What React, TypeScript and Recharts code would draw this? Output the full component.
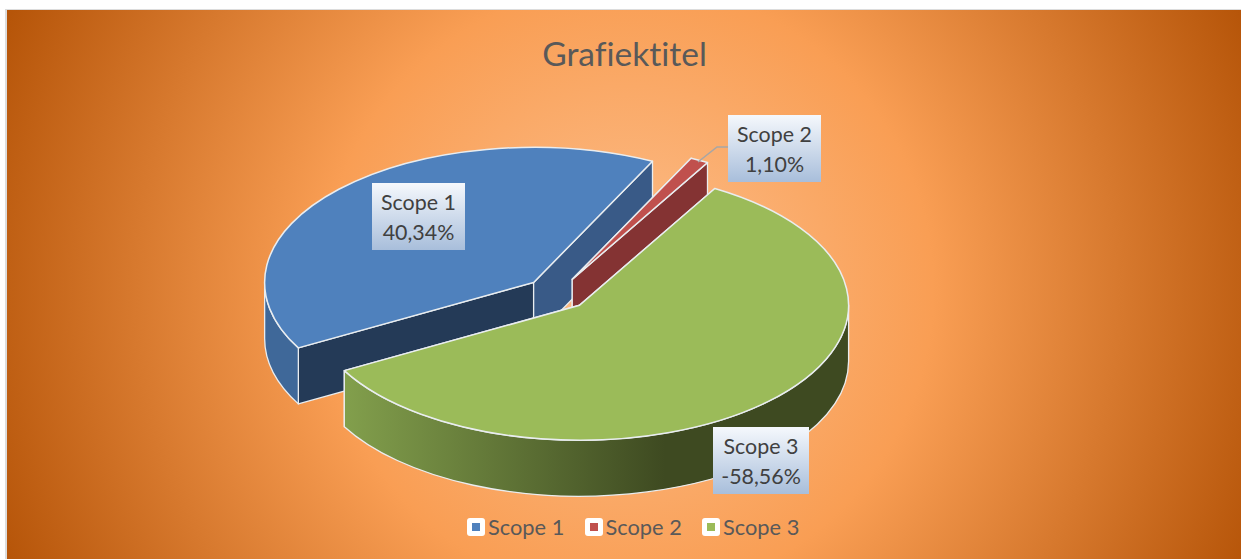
import { Legend, Pie, PieChart } from "recharts";

const categories = ["Scope 1", "Scope 2", "Scope 3"];
const shares = [40.34, 1.1, 58.56];
const shareLabels = ["40,34%", "1,10%", "-58,56%"];

const topColors = ["#4f81bd", "#c0504d", "#9bbb59"];
const startWallColors = ["#243a57", "#843333", "#7f9c4a"];
const endWallColors = ["#395a87", "#843333", "#3e4a21"];
const outerWallColors = ["#3f6899", "#843333", "url(#greenWall)"];

// corner and width of each data label box
const labelBoxes = [
  { x: 372, y: 183, w: 93 },
  { x: 728, y: 115, w: 93 },
  { x: 713, y: 427, w: 96 },
];

const WIDTH = 1241;
const HEIGHT = 559;
const SQUASH = 0.502;
const DEPTH = 56;
const EXPLODE = 0.12;
const EDGE = "#e9edf0";
const FONT = "Lato, sans-serif";

const data = categories.map((name, i) => ({
  name,
  value: shares[i],
  fill: topColors[i],
  index: i,
}));

const rad = (a: number) => (a * Math.PI) / 180;

function Slice3D(props: any) {
  const { cx, cy, outerRadius: r, startAngle, endAngle, midAngle } = props;
  const i = props.payload?.index ?? props.index ?? 0;
  const ry = r * SQUASH;
  const ox = cx + EXPLODE * r * Math.cos(rad(midAngle));
  const oy = cy - EXPLODE * ry * Math.sin(rad(midAngle));
  const pt = (a: number, down = 0) =>
    `${ox + r * Math.cos(rad(a))} ${oy - ry * Math.sin(rad(a)) + down}`;
  const large = Math.abs(startAngle - endAngle) > 180 ? 1 : 0;

  const cutWall = (a: number) =>
    `M${ox} ${oy}L${pt(a)}L${pt(a, DEPTH)}L${ox} ${oy + DEPTH}Z`;

  // the rim only shows on the lower half of the ellipse
  const rims: string[] = [];
  for (let k = -2; k <= 1; k++) {
    const hi = Math.min(startAngle, 360 * k);
    const lo = Math.max(endAngle, 360 * k - 180);
    if (hi > lo) {
      rims.push(
        `M${pt(hi)}A${r} ${ry} 0 0 1 ${pt(lo)}L${pt(lo, DEPTH)}A${r} ${ry} 0 0 0 ${pt(hi, DEPTH)}Z`
      );
    }
  }

  return (
    <g>
      <defs>
        <linearGradient id="greenWall" gradientUnits="userSpaceOnUse" x1={345} x2={665} y1={0} y2={0}>
          <stop offset="0%" stopColor="#829f4c" />
          <stop offset="100%" stopColor="#3e4a21" />
        </linearGradient>
      </defs>
      <path d={cutWall(startAngle)} fill={startWallColors[i]} stroke={EDGE} strokeWidth={1.3} strokeLinejoin="round" />
      <path d={cutWall(endAngle)} fill={endWallColors[i]} stroke={EDGE} strokeWidth={1.3} strokeLinejoin="round" />
      {rims.map((d) => (
        <path key={d} d={d} fill={outerWallColors[i]} stroke={EDGE} strokeWidth={1.3} strokeLinejoin="round" />
      ))}
      <path
        d={`M${ox} ${oy}L${pt(startAngle)}A${r} ${ry} 0 ${large} 1 ${pt(endAngle)}Z`}
        fill={topColors[i]}
        stroke={EDGE}
        strokeWidth={1.5}
        strokeLinejoin="round"
      />
    </g>
  );
}

function DataLabel(props: any) {
  const i = props.index ?? 0;
  const box = labelBoxes[i];
  const textStyle = { fontVariantLigatures: "none" };
  return (
    <g>
      <defs>
        <linearGradient id={`labelFill${i}`} x1="0" x2="0" y1="0" y2="1">
          <stop offset="0%" stopColor="#f5f8fc" />
          <stop offset="100%" stopColor="#a8bedb" />
        </linearGradient>
      </defs>
      {i === 1 && <polyline points="698,162 717,147 728,147" fill="none" stroke="#a6a6a6" strokeWidth={1.5} />}
      <rect x={box.x} y={box.y} width={box.w} height={67} fill={`url(#labelFill${i})`} />
      <text x={box.x + box.w / 2} y={box.y + 27} textAnchor="middle" fontFamily={FONT} fontSize={21.4} fill="#404040" style={textStyle}>
        {categories[i]}
      </text>
      <text x={box.x + box.w / 2} y={box.y + 57} textAnchor="middle" fontFamily={FONT} fontSize={21.4} fill="#404040" style={textStyle}>
        {shareLabels[i]}
      </text>
    </g>
  );
}

function LegendRow() {
  return (
    <div style={{ display: "flex", width: 340, whiteSpace: "nowrap", fontFamily: FONT, fontSize: 21.8, color: "#595959", lineHeight: "24px" }}>
      {categories.map((name, i) => (
        <div key={name} style={{ display: "flex", alignItems: "center", width: i < 2 ? 117.5 : 100 }}>
          <span
            style={{
              width: 18,
              height: 18,
              background: "#fff",
              borderRadius: 3,
              display: "flex",
              alignItems: "center",
              justifyContent: "center",
              marginRight: 3,
              flexShrink: 0,
            }}
          >
            <span style={{ width: 8, height: 8, background: topColors[i] }} />
          </span>
          {name}
        </div>
      ))}
    </div>
  );
}

export default function App() {
  return (
    <div style={{ position: "absolute", left: 0, top: 0, width: WIDTH, height: HEIGHT, background: "#fff", overflow: "hidden" }}>
      <div
        style={{
          position: "absolute",
          left: 5,
          top: 9,
          width: WIDTH - 5,
          height: HEIGHT - 9,
          boxSizing: "border-box",
          borderLeft: "2px solid #dcdcdc",
          borderTop: "1px solid #dcdcdc",
          background:
            "radial-gradient(circle 680px at 620px 280px, #fcbf8d 0%, #f99e54 45%, #b55408 100%)",
        }}
      />
      <PieChart width={WIDTH} height={HEIGHT} margin={{ top: 0, right: 0, bottom: 0, left: 0 }} style={{ position: "absolute", left: 0, top: 0 }}>
        <text x={624.5} y={66} textAnchor="middle" fontFamily={FONT} fontSize={33.5} fill="#595959" style={{ fontVariantLigatures: "none" }}>
          Grafiektitel
        </text>
        <Pie
          data={data}
          dataKey="value"
          nameKey="name"
          cx={557}
          cy={293.6}
          outerRadius={269}
          startAngle={-151}
          endAngle={-511}
          paddingAngle={0}
          stroke="none"
          shape={Slice3D}
          activeShape={Slice3D}
          inactiveShape={Slice3D}
          label={DataLabel}
          labelLine={false}
          isAnimationActive={false}
        />
        <Legend content={LegendRow} wrapperStyle={{ position: "absolute", left: 467, top: 515, width: 340, bottom: "auto" }} />
      </PieChart>
    </div>
  );
}
